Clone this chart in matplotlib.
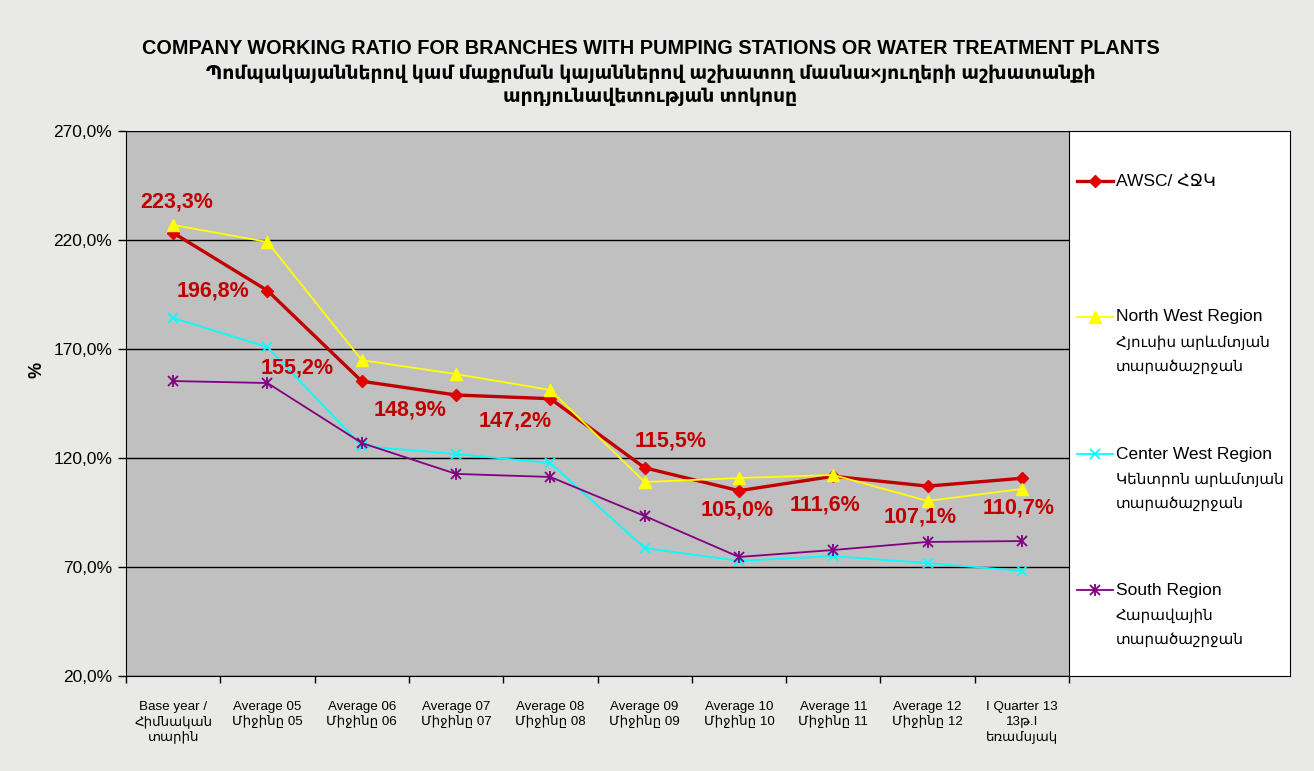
import numpy as np
import matplotlib.pyplot as plt
from matplotlib.ticker import FuncFormatter

plt.rcParams['font.family'] = ['Liberation Sans', 'DejaVu Sans']

# ---------------- data ----------------
categories = ['Base year /\nՀիմնական\nտարին',
              'Average 05\nՄիջինը 05', 'Average 06\nՄիջինը 06',
              'Average 07\nՄիջինը 07', 'Average 08\nՄիջինը 08',
              'Average 09\nՄիջինը 09', 'Average 10\nՄիջինը 10',
              'Average 11\nՄիջինը 11', 'Average 12\nՄիջինը 12',
              'I Quarter 13\n13թ.I\nեռամսյակ']

awsc = [223.3, 196.8, 155.2, 148.9, 147.2, 115.5, 105.0, 111.6, 107.1, 110.7]
north_west = [226.9, 219.1, 164.9, 158.5, 151.2, 109.0, 110.8, 112.2, 100.3, 105.8]
center_west = [184.2, 170.9, 125.5, 121.8, 117.7, 78.7, 72.8, 75.0, 71.8, 68.2]
south = [155.3, 154.4, 126.9, 112.7, 111.3, 93.4, 74.6, 77.8, 81.5, 81.9]

legend_en = ['AWSC/ ՀՋԿ', 'North West Region', 'Center West Region', 'South Region']
legend_hy = ['', 'Հյուսիս արևմտյան\nտարածաշրջան',
             'Կենտրոն արևմտյան\nտարածաշրջան',
             'Հարավային\nտարածաշրջան']

# label offsets (pixels) for the AWSC data labels
label_dx = [4, -54, -65, -46, -35, 26, -2, -8, -7, -3]
label_dy = [31, 0, 13, -15, -22, 27, -19, -29, -31, -30]

yticks = [20, 70, 120, 170, 220, 270]

# ---------------- figure ----------------
fig = plt.figure(figsize=(13.14, 7.71), dpi=100)
fig.patch.set_facecolor('#E9E9E7')

ax = fig.add_axes([126 / 1314, 1 - 676 / 771, 943 / 1314, 545 / 771])
ax.set_facecolor('#C0C0C0')
x = np.arange(len(categories))

red_col = '#C00000'
ax.plot(x, awsc, color=red_col, lw=2.4, marker='D', ms=6,
        mfc='#E00000', mec='#E00000', zorder=3)
ax.plot(x, north_west, color='#FFFF00', lw=1.3, marker='^', ms=8,
        mfc='#FFFF00', mec='#FFFF00', zorder=4)
ax.plot(x, center_west, color='#00FFFF', lw=1.3, marker='x', ms=7,
        mew=1.3, zorder=5)
ax.plot(x, south, color='#800080', lw=1.3, marker='x', ms=7,
        mew=1.3, zorder=6)
ax.plot(x, south, color='#800080', lw=0, marker='|', ms=8,
        mew=1.3, zorder=6)

for i, v in enumerate(awsc):
    ax.annotate(f'{v:.1f}%'.replace('.', ','), (x[i], v),
                xytext=(label_dx[i], label_dy[i]), textcoords='offset pixels',
                ha='center', va='center', fontsize=15.5, fontweight='bold',
                color=red_col, zorder=7)

ax.set_xlim(-0.5, len(categories) - 0.5)
ax.set_ylim(20, 270)
ax.set_yticks(yticks)
ax.yaxis.set_major_formatter(FuncFormatter(lambda v, p: f'{v:.1f}%'.replace('.', ',')))
ax.grid(axis='y', color='black', lw=1)
ax.set_axisbelow(True)
ax.tick_params(axis='y', labelsize=12.5, length=6, direction='out', width=1, pad=4)

ax.set_xticks(x)
ax.set_xticklabels(categories, fontsize=9.6, linespacing=1.25)
ax.set_xticks(np.arange(-0.5, len(categories), 1), minor=True)
ax.tick_params(axis='x', which='major', length=0, pad=18)
ax.tick_params(axis='x', which='minor', length=5, direction='out', width=1)

for s in ['top', 'right']:
    ax.spines[s].set_visible(False)
ax.spines['left'].set_color('black')
ax.spines['bottom'].set_color('black')

ax.set_ylabel('%', fontsize=13, fontweight='bold')
ax.yaxis.set_label_coords(-0.085, 0.561)

# titles
fig.text(0.495, 1 - 49 / 771, 'COMPANY WORKING RATIO FOR BRANCHES WITH PUMPING STATIONS OR WATER TREATMENT PLANTS',
         ha='center', va='center', fontsize=14.3, fontweight='bold')
fig.text(0.495, 1 - 74 / 771, 'Պոմպակայաններով կամ մաքրման կայաններով աշխատող մասնա×յուղերի աշխատանքի',
         ha='center', va='center', fontsize=13.5, fontweight='bold')
fig.text(0.495, 1 - 97 / 771, 'արդյունավետության տոկոսը',
         ha='center', va='center', fontsize=13.5, fontweight='bold')

# legend box
lax = fig.add_axes([1069 / 1314, 1 - 676 / 771, 221 / 1314, 545 / 771])
lax.set_facecolor('white')
lax.set_xticks([])
lax.set_yticks([])
for s in lax.spines.values():
    s.set_color('black')
lax.set_xlim(0, 221)
lax.set_ylim(545, 0)

leg_y = [50, 186, 323, 459]
leg_styles = [dict(color=red_col, lw=2.4, marker='D', ms=6, mfc='#E00000', mec='#E00000'),
              dict(color='#FFFF00', lw=1.3, marker='^', ms=8, mfc='#FFFF00', mec='#FFFF00'),
              dict(color='#00FFFF', lw=1.3, marker='x', ms=7, mew=1.3),
              dict(color='#800080', lw=1.3, marker='x', ms=7, mew=1.3)]
for i in range(len(legend_en)):
    yy = leg_y[i]
    lax.plot([8, 44], [yy, yy], **{k: v for k, v in leg_styles[i].items() if k not in ('marker', 'ms', 'mfc', 'mec', 'mew')})
    lax.plot([26], [yy], lw=0, **{k: v for k, v in leg_styles[i].items() if k not in ('lw',)})
    if i == 3:
        lax.plot([26], [yy], lw=0, color='#800080', marker='|', ms=8, mew=1.3)
    lax.text(47, yy, legend_en[i], ha='left', va='center', fontsize=12.5)
    if legend_hy[i]:
        lax.text(47, yy + 18, legend_hy[i], ha='left', va='top', fontsize=10.9, linespacing=1.85)

fig.savefig('out.png', dpi=100, facecolor=fig.get_facecolor())
